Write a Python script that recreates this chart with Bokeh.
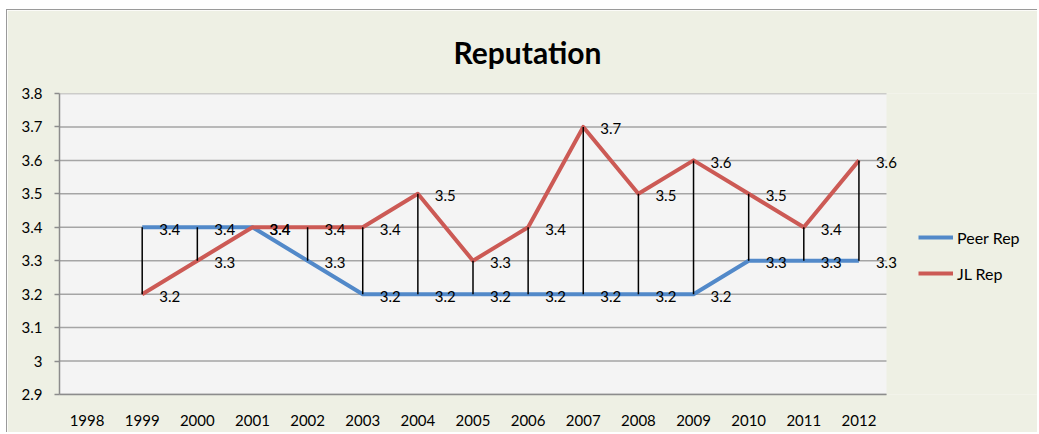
from bokeh.plotting import figure
from bokeh.models import (Range1d, FixedTicker, CustomJSTickFormatter,
                          Legend, LegendItem, ColumnDataSource, LabelSet)
from bokeh.core.properties import value
from bokeh.embed import file_html
from bokeh.resources import INLINE

# Category axis (1998 has no data)
categories = ["1998", "1999", "2000", "2001", "2002", "2003", "2004", "2005",
              "2006", "2007", "2008", "2009", "2010", "2011", "2012"]
years = ["1999", "2000", "2001", "2002", "2003", "2004", "2005",
         "2006", "2007", "2008", "2009", "2010", "2011", "2012"]
peer_rep = [3.4, 3.4, 3.4, 3.3, 3.2, 3.2, 3.2, 3.2, 3.2, 3.2, 3.2, 3.3, 3.3, 3.3]
jl_rep = [3.2, 3.3, 3.4, 3.4, 3.4, 3.5, 3.3, 3.4, 3.7, 3.5, 3.6, 3.5, 3.4, 3.6]
y_ticks = [2.9, 3.0, 3.1, 3.2, 3.3, 3.4, 3.5, 3.6, 3.7, 3.8]

FONT = "Lato"
BLUE = "#5289C9"
RED = "#CC5A55"
GRID = "#A5A5A5"
CHART_BG = "#EEF0E4"
PLOT_BG = "#F4F4F4"

# Layout in pixels: plot area is 827 px wide, the chart area continues to the right
FIG_W, FIG_H = 1031, 423
LEFT, TOP, BOTTOM = 52, 83, 39
PLOT_W = 827
FRAME_W = FIG_W - LEFT

n_cat = len(categories)
cat_pos = {c: i for i, c in enumerate(categories)}
x_lo, x_hi = -0.5, n_cat - 0.5
x_end = x_lo + FRAME_W * n_cat / PLOT_W

src = ColumnDataSource(dict(
    x=[cat_pos[y] for y in years],
    peer=peer_rep,
    jl=jl_rep,
    peer_txt=[f"{v:g}" for v in peer_rep],
    jl_txt=[f"{v:g}" for v in jl_rep],
))

p = figure(
    width=FIG_W, height=FIG_H,
    x_range=Range1d(x_lo, x_end),
    y_range=Range1d(y_ticks[0], y_ticks[-1]),
    output_backend="svg", toolbar_location=None,
    min_border_left=LEFT, min_border_right=0,
    min_border_top=TOP, min_border_bottom=BOTTOM,
    background_fill_color=CHART_BG,
    border_fill_color=CHART_BG,
    outline_line_color=None,
    margin=(9, 0, 0, 6),
    styles={"border-top": "1px solid #9A9A9A", "border-left": "1px solid #9A9A9A"},
)

# Title
p.title.text = "Reputation"
p.title.text_font = FONT
p.title.text_font_size = "30px"
p.title.text_font_style = "bold"
p.title.text_color = "#000000"
p.title.align = "left"
p.title.vertical_align = "top"
p.title.offset = 394
p.title.standoff = 44

# Plot area background
p.quad(left=x_lo, right=x_hi, bottom=y_ticks[0], top=y_ticks[-1],
       fill_color=PLOT_BG, line_color=None)

# Horizontal gridlines across the plot area only
p.segment(x0=[x_lo] * len(y_ticks), x1=[x_hi] * len(y_ticks),
          y0=y_ticks, y1=y_ticks, line_color=GRID, line_width=1.5)

# Axes
p.xgrid.grid_line_color = None
p.ygrid.grid_line_color = None
p.yaxis.ticker = FixedTicker(ticks=y_ticks)
p.yaxis.formatter = CustomJSTickFormatter(
    code="return tick.toFixed(1).replace(/\\.0$/, '');")
p.xaxis.ticker = FixedTicker(ticks=list(range(n_cat)))
p.xaxis.formatter = CustomJSTickFormatter(
    args=dict(labels=categories), code="return labels[Math.round(tick)];")
p.xaxis.bounds = (x_lo, x_hi)
for ax in (p.xaxis[0], p.yaxis[0]):
    ax.axis_line_color = "#8C8C8C"
    ax.axis_line_width = 1.5
    ax.major_label_text_font = FONT
    ax.major_label_text_font_size = "15px"
    ax.major_label_text_color = "#000000"
    ax.minor_tick_line_color = None
p.yaxis.major_tick_line_color = "#8C8C8C"
p.yaxis.major_tick_line_width = 1.5
p.yaxis.major_tick_out = 5
p.yaxis.major_tick_in = 0
p.yaxis.major_label_standoff = 12
p.xaxis.major_tick_line_color = None
p.xaxis.major_label_standoff = 14

# Series lines
peer_line = p.line("x", "peer", source=src, line_color=BLUE, line_width=4,
                   line_join="round")
jl_line = p.line("x", "jl", source=src, line_color=RED, line_width=4,
                 line_join="round")

# High-low lines between the two series
p.segment(x0="x", y0="peer", x1="x", y1="jl", source=src,
          line_color="black", line_width=1.5)

# Data labels
for col, txt in (("peer", "peer_txt"), ("jl", "jl_txt")):
    p.add_layout(LabelSet(x="x", y=col, text=txt, source=src,
                          x_offset=17, y_offset=-2,
                          text_align="left", text_baseline="middle",
                          text_font=value(FONT), text_font_size="15px",
                          text_color="#000000"))

# Legend to the right of the plot area
legend = Legend(
    items=[LegendItem(label="Peer Rep", renderers=[peer_line]),
           LegendItem(label="JL Rep", renderers=[jl_line])],
    location=(PLOT_W + 32, 111),
    orientation="vertical",
    glyph_width=35, glyph_height=20, label_height=20,
    label_standoff=4, spacing=16, padding=0, margin=0,
    border_line_color=None, background_fill_alpha=0,
    label_text_font=FONT, label_text_font_size="16px",
    label_text_color="#000000",
)
p.add_layout(legend, "center")

open("out.html", "w").write(file_html(p, INLINE))
